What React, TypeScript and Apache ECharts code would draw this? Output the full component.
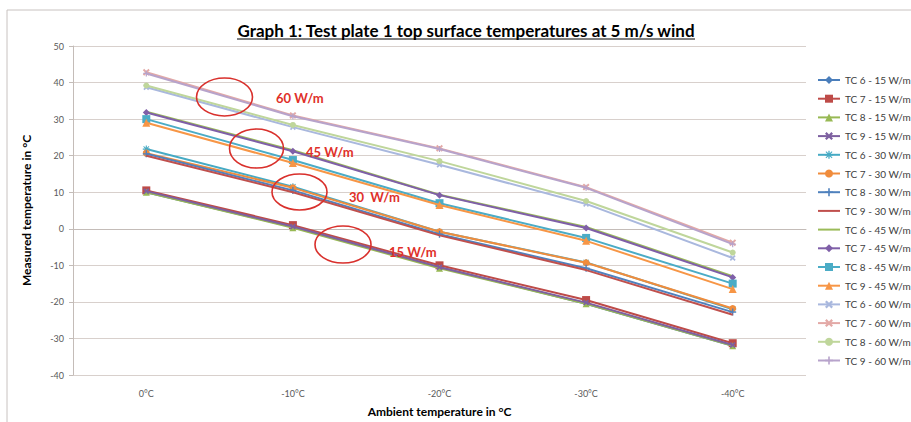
import React, { useEffect, useRef } from "react";
import * as echarts from "echarts";

const categories = ["0°C", "-10°C", "-20°C", "-30°C", "-40°C"];
const seriesNames = [
  "TC 6 - 15 W/m", "TC 7 - 15 W/m", "TC 8 - 15 W/m", "TC 9 - 15 W/m",
  "TC 6 - 30 W/m", "TC 7 - 30 W/m", "TC 8 - 30 W/m", "TC 9 - 30 W/m",
  "TC 6 - 45 W/m", "TC 7 - 45 W/m", "TC 8 - 45 W/m", "TC 9 - 45 W/m",
  "TC 6 - 60 W/m", "TC 7 - 60 W/m", "TC 8 - 60 W/m", "TC 9 - 60 W/m",
];
const tc6_15 = [10, 0.5, -10.5, -20.5, -32];
const tc7_15 = [10.5, 1, -10, -19.5, -31.3];
const tc8_15 = [10, 0.3, -10.8, -20.5, -32];
const tc9_15 = [10.3, 0.6, -10.5, -20.2, -31.8];
const tc6_30 = [21.8, 11.5, -0.8, -9.2, -22];
const tc7_30 = [20.7, 11.2, -0.8, -9.3, -21.8];
const tc8_30 = [20.5, 10.5, -1.5, -10.8, -22.8];
const tc9_30 = [20, 10, -1.8, -11.3, -23.5];
const tc6_45 = [32, 21.5, 9.3, 0.5, -13];
const tc7_45 = [31.8, 21.2, 9.2, 0.2, -13.3];
const tc8_45 = [30, 18.8, 7, -2.5, -15];
const tc9_45 = [29, 18, 6.5, -3.3, -16.5];
const tc6_60 = [38.7, 27.8, 17.5, 6.8, -8];
const tc7_60 = [42.8, 31, 22, 11.4, -3.8];
const tc8_60 = [39.2, 28.4, 18.5, 7.6, -6.5];
const tc9_60 = [42.5, 30.8, 21.8, 11.2, -4.2];
const seriesValues = [
  tc6_15, tc7_15, tc8_15, tc9_15,
  tc6_30, tc7_30, tc8_30, tc9_30,
  tc6_45, tc7_45, tc8_45, tc9_45,
  tc6_60, tc7_60, tc8_60, tc9_60,
];
const yTicks = { min: -40, max: 50, interval: 10 };
const annotations = ["60 W/m", "45 W/m", "30  W/m", "15 W/m"];

const colors = [
  "#4A7EBB", "#BE4B48", "#98B954", "#7D60A0",
  "#46AAC4", "#F08C3C", "#4F81BD", "#C0504D",
  "#9BBB59", "#7F5FA8", "#4BACC6", "#F79646",
  "#A9B8DE", "#E3A9A6", "#BFD69B", "#B7A3CB",
];
const X = "path://M2,0L5,3L8,0L10,2L7,5L10,8L8,10L5,7L2,10L0,8L3,5L0,2Z";
const PLUS = "path://M4,0H6V4H10V6H6V10H4V6H0V4H4Z";
const STAR = "path://M4.2,0H5.8V3.2L8.5,0.7L9.3,1.5L6.8,4.2H10V5.8H6.8L9.3,8.5L8.5,9.3L5.8,6.8V10H4.2V6.8L1.5,9.3L0.7,8.5L3.2,5.8H0V4.2H3.2L0.7,1.5L1.5,0.7L4.2,3.2Z";
const symbols = [
  "diamond", "rect", "triangle", X,
  STAR, "circle", PLUS, "none",
  "none", "diamond", "rect", "triangle",
  X, X, "circle", PLUS,
];
const symbolSizes = [6, 8, 7, 6, 7, 7, 7, 0, 0, 7, 8, 8, 6, 7, 6, 6];

const FONT = "Lato, 'Open Sans', sans-serif";

export default function App() {
  const ref = useRef<HTMLDivElement>(null);
  useEffect(() => {
    if (!ref.current) return;
    const chart = echarts.init(ref.current, undefined, { renderer: "svg" });
    const title = "Graph 1: Test plate 1 top surface temperatures at 5 m/s wind";
    const targetW = 458;
    let titleSize = 16.5;
    try {
      const c = document.createElement("canvas").getContext("2d");
      if (c) {
        c.font = "bold 14px Lato";
        const w = c.measureText(title).width;
        if (w > 0) titleSize = Math.min(18, Math.max(13, (14 * targetW) / w));
      }
    } catch (e) {}
    const titleFont = `bold ${titleSize.toFixed(2)}px Lato`;
    const tcx = 466;
    const series = seriesNames.map((name, i) => ({
      name,
      type: "line",
      data: seriesValues[i],
      symbol: symbols[i],
      symbolSize: symbolSizes[i],
      showSymbol: symbols[i] !== "none",
      lineStyle: { color: colors[i], width: 2 },
      itemStyle: { color: colors[i] },
      z: 2 + i,
    }));
    const legendData = seriesNames.map((name, i) =>
      symbols[i] === "none" ? { name, itemStyle: { opacity: 0 } } : { name }
    );
    chart.setOption({
      animation: false,
      color: colors,
      textStyle: { fontFamily: FONT },
      grid: { left: 73, right: 105, top: 46, bottom: 38, containLabel: false },
      legend: {
        orient: "vertical",
        left: 812,
        top: 70,
        itemWidth: 22,
        itemHeight: 10,
        itemGap: 8.7,
        textStyle: { fontSize: 10, color: "#404040", fontFamily: FONT },
        data: legendData,
      },
      xAxis: {
        type: "category",
        data: categories,
        boundaryGap: true,
        name: "Ambient temperature in °C",
        nameLocation: "middle",
        nameGap: 30,
        nameTextStyle: { fontSize: 12, fontWeight: "bold", color: "#000", fontFamily: FONT },
        axisLine: { lineStyle: { color: "#c4bcb8" } },
        axisTick: { lineStyle: { color: "#c4bcb8" }, length: 4 },
        axisLabel: { fontSize: 9, color: "#595959", margin: 14 },
      },
      yAxis: {
        type: "value",
        min: yTicks.min,
        max: yTicks.max,
        interval: yTicks.interval,
        name: "Measured temperature in °C",
        nameLocation: "middle",
        nameGap: 41,
        nameTextStyle: { fontSize: 12, fontWeight: "bold", color: "#000", fontFamily: FONT },
        axisLine: { show: true, lineStyle: { color: "#c4bcb8" } },
        axisTick: { show: true, lineStyle: { color: "#c4bcb8" }, length: 4 },
        axisLabel: { fontSize: 9, color: "#595959", margin: 9 },
        splitLine: { lineStyle: { color: "#d8d0cc", width: 1 } },
      },
      series,
      graphic: [
        { type: "line", shape: { x1: 7, y1: 10, x2: 911, y2: 10 }, style: { stroke: "#c8c2c0", lineWidth: 1 } },
        { type: "line", shape: { x1: 7, y1: 10, x2: 7, y2: 422 }, style: { stroke: "#c8c2c0", lineWidth: 1 } },
        {
          type: "text", x: tcx, y: 30,
          style: { text: title, font: titleFont, fill: "#000", align: "center", verticalAlign: "middle" },
        },
        { type: "line", shape: { x1: tcx - targetW / 2, y1: 39, x2: tcx + targetW / 2, y2: 39 }, style: { stroke: "#000", lineWidth: 1 } },
        { type: "ellipse", shape: { cx: 224.5, cy: 97, rx: 28, ry: 19 }, style: { fill: "none", stroke: "#d9302c", lineWidth: 1.6 }, z: 100 },
        { type: "ellipse", shape: { cx: 256.5, cy: 148.5, rx: 27, ry: 19.5 }, style: { fill: "none", stroke: "#d9302c", lineWidth: 1.6 }, z: 100 },
        { type: "ellipse", shape: { cx: 299.5, cy: 192, rx: 27.5, ry: 18 }, style: { fill: "none", stroke: "#d9302c", lineWidth: 1.6 }, z: 100 },
        { type: "ellipse", shape: { cx: 343, cy: 244.5, rx: 28, ry: 18.5 }, style: { fill: "none", stroke: "#d9302c", lineWidth: 1.6 }, z: 100 },
        { type: "text", x: 276, y: 98, style: { text: annotations[0], font: "bold 13px Lato", fill: "#e0302a", verticalAlign: "middle" }, z: 100 },
        { type: "text", x: 306, y: 152, style: { text: annotations[1], font: "bold 13px Lato", fill: "#e0302a", verticalAlign: "middle" }, z: 100 },
        { type: "text", x: 349, y: 197, style: { text: annotations[2], font: "bold 13px Lato", fill: "#e0302a", verticalAlign: "middle" }, z: 100 },
        { type: "text", x: 389, y: 252, style: { text: annotations[3], font: "bold 13px Lato", fill: "#e0302a", verticalAlign: "middle" }, z: 100 },
      ],
    });
    return () => chart.dispose();
  }, []);
  return (
    <div
      ref={ref}
      style={{ position: "fixed", left: 0, top: 0, width: 911, height: 422, background: "#fff" }}
    />
  );
}
